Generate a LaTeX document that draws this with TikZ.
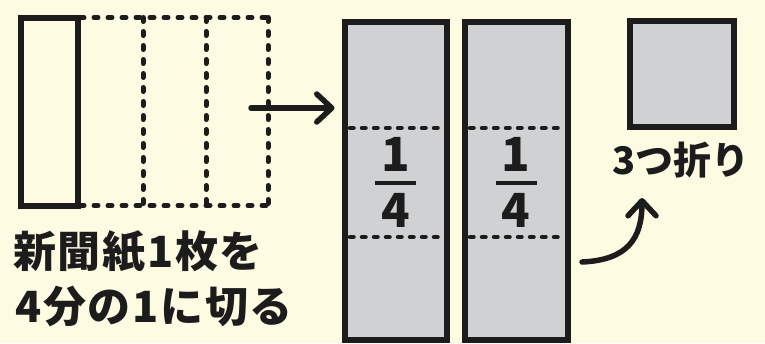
\documentclass[tikz,border=0pt]{standalone}
\usepackage{fontspec}
\newfontfamily\cjk{Noto Sans CJK JP}
\newfontfamily\cjksp{Noto Sans CJK JP}[LetterSpace=4]
\usetikzlibrary{arrows.meta}
\definecolor{bg}{HTML}{FEFBE3}
\definecolor{paper}{HTML}{D0D1D3}
\definecolor{ink}{HTML}{1C1C1C}
\begin{document}
\begin{tikzpicture}[x=1pt,y=-1pt,
  sheet/.style={draw=ink,line width=6pt,inner sep=0pt,outer sep=0pt},
  cutline/.style={draw=ink,line width=5pt,line cap=round,dash pattern=on 4pt off 10pt},
  foldline/.style={draw=ink,line width=4.5pt,line cap=round,dash pattern=on 3.5pt off 8.5pt},
  arr/.style={draw=ink,line width=5.5pt,line cap=round,
    -{Straight Barb[length=15pt,width=28pt,line cap=round,line join=round]}},
  lbl/.style={font=\cjksp\bfseries\fontsize{43}{48}\selectfont,text=ink,inner sep=0pt},
  frac/.style={font=\cjk\bfseries\fontsize{47}{47}\selectfont,text=ink,inner sep=0pt}]
\fill[bg] (0,0) rectangle (765,343);
\useasboundingbox (0,0) rectangle (765,343);
% newspaper strip and cut lines
\node[sheet,minimum width=57pt,minimum height=188pt] (strip) at (49,111.5) {};
\draw[cutline] (80,17.5) -- (268,17.5);
\draw[cutline] (80,205.5) -- (268,205.5);
\draw[cutline] (143,17.5) -- (143,205.5);
\draw[cutline] (206,17.5) -- (206,205.5);
\draw[cutline] (268,17.5) -- (268,205.5);
% two quarter sheets
\node[sheet,fill=paper,minimum width=102.5pt,minimum height=318pt] (m1) at (395.75,181) {};
\node[sheet,fill=paper,minimum width=103.5pt,minimum height=318pt] (m2) at (516.25,181) {};
\draw[foldline] (350,128) -- (442,128);
\draw[foldline] (350,237) -- (442,237);
\draw[foldline] (470,128) -- (563,128);
\draw[foldline] (470,237) -- (563,237);
\node[frac] (n1) at (395.5,154) {1};
\node[frac] (d1) at (395.5,210) {4};
\draw[ink,line width=3.5pt] (375,183) -- (416,183);
\node[frac] (n2) at (516,154) {1};
\node[frac] (d2) at (516,210) {4};
\draw[ink,line width=3.5pt] (496,183) -- (537,183);
% folded square
\node[sheet,fill=paper,minimum width=104.5pt,minimum height=106pt] (sq) at (681.75,74) {};
% labels
\node[lbl,anchor=west] (t1) at (13,252) {新聞紙1枚を};
\node[lbl,anchor=west] (t2) at (15,306) {4分の1に切る};
\node[lbl,font=\cjk\bfseries\fontsize{38}{42}\selectfont,anchor=west] (t3) at (612,160) {3つ折り};
% arrows
\coordinate (a1s) at (251,108);
\draw[arr,shorten >=10pt] (a1s) -- (m1.west |- a1s);
\coordinate (a2s) at (582,262);
\coordinate (a2e) at (642,198);
\draw[arr] (a2s) .. controls (628,260) and (642,238) .. (a2e);
\end{tikzpicture}
\end{document}
